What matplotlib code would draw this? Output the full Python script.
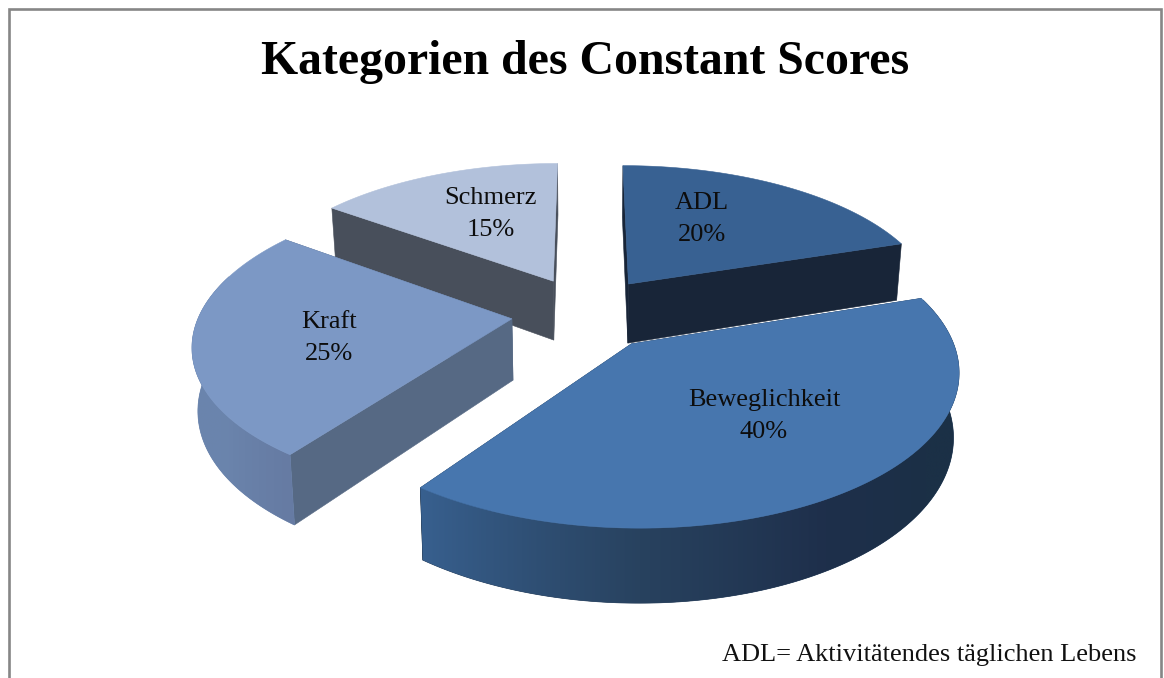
import numpy as np
import matplotlib
matplotlib.use("Agg")
import matplotlib.pyplot as plt
from matplotlib.colors import to_rgb
from matplotlib.patches import Polygon, Rectangle

# clockwise from 12 o'clock
labels = ["ADL", "Beweglichkeit", "Kraft", "Schmerz"]
values = [20, 40, 25, 15]

title = "Kategorien des Constant Scores"
note = "ADL= Aktivitätendes täglichen Lebens"

top_colors = ["#386192", "#4776ae", "#7c98c5", "#b2c1db"]
wall_colors = ["#182538", "#1b3046", "#566984", "#484f5b"]
# (angle, colour) stops for the outer rim
rim_stops = [
    [(72, "#1b2c44"), (90, "#1b2c44")],
    [(72, "#1b3046"), (125, "#1b3046"), (150, "#1e2f4b"), (180, "#28425f"), (216, "#38608f")],
    [(216, "#667ba3"), (235, "#6b85ad"), (306, "#6a84ad")],
    [(306, "#484f5b"), (360, "#484f5b")],
]
label_xy = [(702, 219), (764, 416), (329, 338), (491, 214)]

# projection of the pie, in pixels
cx, cy = 586, 313
sx, sy = 312, 145
persp = 0.155
explode_x, explode_y = 0.239, 0.255
depth = 61
shrink = 0.985


def project(a, r, off):
    # a in degrees clockwise from the top, off = explosion vector
    t = np.radians(a)
    X = r * np.sin(t) + off[0]
    Y = -r * np.cos(t) + off[1]
    p = 1 / (1 - persp * Y)
    return X, Y, p


def top_pt(a, r, off):
    X, Y, p = project(a, r, off)
    return np.column_stack([cx + sx * X * p, cy + sy * Y * p])


def bot_pt(a, r, off):
    X, Y, p = project(a, r, off)
    return np.column_stack([cx + sx * X * p * shrink, cy + sy * Y * p + depth * p])


def rim_color(stops, a):
    ang = [s[0] for s in stops]
    rgb = np.array([to_rgb(s[1]) for s in stops])
    return np.column_stack([np.interp(a, ang, rgb[:, i]) for i in range(3)])


fig = plt.figure(figsize=(11.64, 6.78), dpi=100)
ax = fig.add_axes([0, 0, 1, 1])
ax.axis("off")

ax.add_patch(Rectangle((9, 9), 1152, 700, fc="white", ec="#868686", lw=1.9, zorder=0))

shares = np.array(values) / sum(values) * 360
starts = np.concatenate([[0], np.cumsum(shares)[:-1]])

z = 1
# back slices first
for i in [0, 3, 2, 1]:
    a0, a1 = starts[i], starts[i] + shares[i]
    mid = np.radians((a0 + a1) / 2)
    off = (explode_x * np.sin(mid), -explode_y * np.cos(mid))

    # flat walls, the one further back first
    walls = sorted([a0, a1], key=lambda a: project(np.array([a]), 1.0, off)[1][0])
    for a in walls:
        aa = np.array([a])
        c_t = top_pt(aa, 0.0, off)[0]
        c_b = bot_pt(aa, 0.0, off)[0]
        e_t = top_pt(aa, 1.0, off)[0]
        e_b = bot_pt(aa, 1.0, off)[0]
        ax.add_patch(Polygon([c_t, e_t, e_b, c_b], fc=wall_colors[i], ec=wall_colors[i], lw=0.4, zorder=z))
        z += 1

    ang = np.linspace(a0, a1, 200)

    # outer rim: gradient image clipped to the part facing the viewer
    front = ang[np.cos(np.radians(ang)) < 0.3]
    if len(front) > 1:
        t_pts = top_pt(front, 1.0, off)
        b_pts = bot_pt(front, 1.0, off)
        shape = np.vstack([t_pts, b_pts[::-1]])
        cols = rim_color(rim_stops[i], front)
        base = cols.mean(axis=0)
        ax.add_patch(Polygon(shape, fc=base, ec=base, lw=0.5, zorder=z))
        z += 1

        xs = np.linspace(shape[:, 0].min(), shape[:, 0].max(), 500)
        order = np.argsort(t_pts[:, 0])
        row = np.column_stack([np.interp(xs, t_pts[order, 0], cols[order, c]) for c in range(3)])
        im = ax.imshow(row[np.newaxis, :, :], aspect="auto", interpolation="bilinear", zorder=z,
                       extent=[xs[0], xs[-1], shape[:, 1].max(), shape[:, 1].min()])
        im.set_clip_path(Polygon(shape, transform=ax.transData))
        z += 1

    # top face
    outline = np.vstack([top_pt(np.array([a0]), 0.0, off), top_pt(ang, 1.0, off)])
    ax.add_patch(Polygon(outline, fc=top_colors[i], ec=top_colors[i], lw=0.4, zorder=z))
    z += 1

ax.set_xlim(0, 1164)
ax.set_ylim(678, 0)

serif = "Liberation Serif"
ax.text(585, 74, title, family=serif, weight="bold", fontsize=34.4, ha="center", va="baseline", color="black", zorder=z)
for name, val, (x, y) in zip(labels, values, label_xy):
    ax.text(x, y, f"{name}\n{val}%", family=serif, fontsize=19, ha="center", va="center",
            linespacing=1.55, color="#0d0d0d", zorder=z)
ax.text(1136, 661, note, family=serif, fontsize=19, ha="right", va="baseline", color="#111111", zorder=z)

fig.savefig("out.png", dpi=100)
